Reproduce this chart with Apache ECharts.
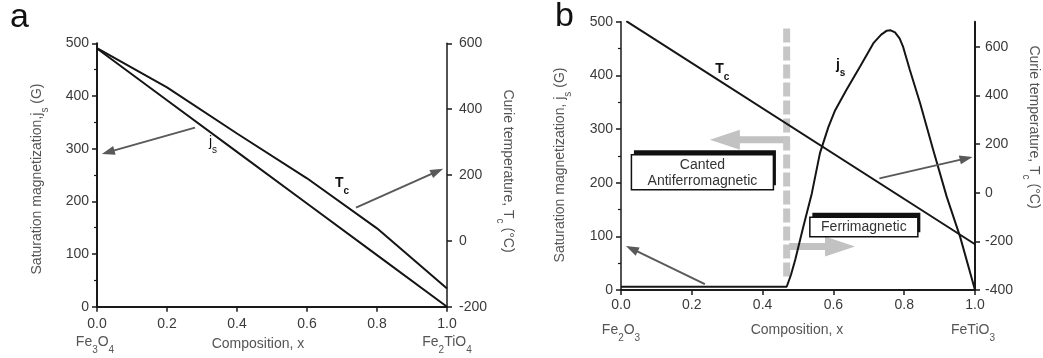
<!DOCTYPE html>
<html><head><meta charset="utf-8">
<script src="https://cdn.jsdelivr.net/npm/echarts@6/dist/echarts.min.js"></script>
<style>html,body{margin:0;padding:0;background:#fff}#c{width:1043px;height:358px}</style>
</head><body><div id="c"></div>
<script>
// ---------- data ----------
const xTickValues = [0, 0.2, 0.4, 0.6, 0.8, 1.0];
// panel a : Fe3O4 - Fe2TiO4
const compA = [0, 0.2, 0.4, 0.6, 0.8, 1.0];
const jsA   = [490, 392, 294, 196, 98, 0];          // saturation magnetization (G)
const tcA   = [585, 466, 326, 190, 38, -145];       // Curie temperature (°C)
// panel b : Fe2O3 - FeTiO3
const compB_js = [0, 0.468, 0.480, 0.492, 0.515, 0.539, 0.562, 0.586, 0.605, 0.637, 0.675, 0.713, 0.735, 0.750, 0.762, 0.774, 0.787, 0.797, 0.816, 0.845, 0.882, 0.920, 0.958, 1.0];
const jsB      = [6, 6, 28, 56, 118, 180, 255, 304, 335, 373, 416, 460, 476, 483, 484, 480, 469, 453, 410, 348, 261, 174, 99, 0];
const compB_tc = [0.015, 1.0];
const tcB      = [705, -212];
const rightTicksB = [-400, -200, 0, 200, 400, 600];
const boundaryB = [[0.468, 25], [0.468, 491]];
// annotations, in data units [x1, y1(left axis), x2, y2]
const arrowsA = [[0.28, 340, 0.014, 290], [0.74, 188, 0.989, 262]];
const arrowsB = [[0.237, 11, 0.014, 82], [0.73, 208, 0.993, 248]];
const bigArrowsB = [[0.475, 280, 0.251, 280], [0.475, 81, 0.661, 81]];
const labelsA = [[0.32, 306], [0.68, 228]];
const labelTextA = [['j', 's'], ['T', 'c']];
const labelsB = [[0.266, 406], [0.607, 414]];
const labelTextB = [['T', 'c'], ['j', 's']];
const boxesB = [[0.230, 252], [0.686, 135.5]];
const boxTextB = ['Canted\nAntiferromagnetic', 'Ferrimagnetic'];
</script>
<script>
const FONT = '"Liberation Sans", Arial, sans-serif';
const AX = '#1a1a1a', TXT = '#3a3a3a', TTL = '#555';
const boxSizes = [[142, 35], [108, 19.5]];

function rich(size, color, weight, lh) {
  const ss = Math.round(size * 0.72);
  return {
    m: {fontSize: size, fontFamily: FONT, fill: color, color: color, fontWeight: weight || 'normal', lineHeight: lh || size + 6, verticalAlign: 'top'},
    s: {fontSize: ss, fontFamily: FONT, fill: color, color: color, fontWeight: weight || 'normal', lineHeight: ss, verticalAlign: 'bottom'}
  };
}
const zip = (xs, ys) => xs.map((x, i) => [x, ys[i]]);

function arrowRender(lineW, headL, headW, color) {
  return function (params, api) {
    const p1 = api.coord([api.value(0), api.value(1)]);
    const p2 = api.coord([api.value(2), api.value(3)]);
    const dx = p2[0] - p1[0], dy = p2[1] - p1[1];
    const len = Math.hypot(dx, dy), ux = dx / len, uy = dy / len;
    const bx = p2[0] - ux * headL, by = p2[1] - uy * headL;
    const nx = -uy, ny = ux;
    return {type: 'group', children: [
      {type: 'line', shape: {x1: p1[0], y1: p1[1], x2: bx + ux, y2: by + uy}, style: {stroke: color, lineWidth: lineW}},
      {type: 'polygon', shape: {points: [[p2[0], p2[1]], [bx + nx * headW / 2, by + ny * headW / 2], [bx - nx * headW / 2, by - ny * headW / 2]]}, style: {fill: color}}
    ]};
  };
}
function labelRender(texts, weights) {
  return function (params, api) {
    const p = api.coord([api.value(0), api.value(1)]);
    const t = texts[params.dataIndex];
    return {type: 'text', x: p[0], y: p[1], style: {text: '{m|' + t[0] + '}{s|' + t[1] + '}', rich: rich(14, '#111', weights[params.dataIndex], 20), align: 'left', verticalAlign: 'middle'}};
  };
}
function boxRender(params, api) {
  const p = api.coord([api.value(0), api.value(1)]);
  const w = boxSizes[params.dataIndex][0], h = boxSizes[params.dataIndex][1];
  return {type: 'group', children: [
    {type: 'rect', shape: {x: p[0] - w / 2 + 2.5, y: p[1] - 4.5, width: w, height: h}, style: {fill: '#111'}},
    {type: 'rect', shape: {x: p[0] - w / 2, y: p[1], width: w, height: h}, style: {fill: '#fff', stroke: '#111', lineWidth: 1.5}},
    {type: 'text', x: p[0], y: p[1] + h / 2 + 0.5, style: {text: boxTextB[params.dataIndex], align: 'center', verticalAlign: 'middle', fontSize: 14, fontFamily: FONT, fill: '#333', lineHeight: 16}}
  ]};
}

function xAxis(grid, w, margin) {
  return {type: 'value', gridIndex: grid, min: 0, max: 1, interval: 0.2,
    axisLine: {onZero: false, lineStyle: {color: AX, width: w}},
    axisTick: {length: 5, lineStyle: {color: AX, width: 1.5}},
    axisLabel: {margin: margin, fontSize: 14, fontFamily: FONT, color: TXT, formatter: v => v.toFixed(1)},
    splitLine: {show: false}};
}
function yLeft(grid, w) {
  return {type: 'value', gridIndex: grid, position: 'left', min: 0, max: 500, interval: 100,
    axisLine: {show: true, onZero: false, lineStyle: {color: AX, width: w}},
    axisTick: {show: true, length: 5, lineStyle: {color: AX, width: 1.5}},
    minorTick: {show: true, splitNumber: 2, length: 3, lineStyle: {color: AX, width: 1.2}},
    axisLabel: {margin: 8, fontSize: 14, fontFamily: FONT, color: TXT},
    splitLine: {show: false}};
}
function yRight(grid, w, min, max, ticks, margin) {
  const o = {type: 'value', gridIndex: grid, position: 'right', min: min, max: max, interval: 200,
    axisLine: {show: true, onZero: false, lineStyle: {color: AX, width: w}},
    axisTick: {show: true, length: 5, lineStyle: {color: AX, width: 1.5}},
    axisLabel: {margin: margin, fontSize: 14, fontFamily: FONT, color: TXT},
    splitLine: {show: false}};
  if (ticks) { o.axisTick.customValues = ticks; o.axisLabel.customValues = ticks; }
  return o;
}

const lineStyle = {color: '#151515', width: 2};
function gtext(x, y, text, rot, size, color, lh) {
  return {type: 'text', x: x, y: y, rotation: rot || 0,
    style: {text: text, rich: rich(size || 14, color || TTL, 'normal', lh || 20), align: 'center', verticalAlign: 'middle'}};
}

const chart = echarts.init(document.getElementById('c'), null, {renderer: 'canvas'});
chart.setOption({
  animation: false,
  backgroundColor: '#fff',
  grid: [
    {left: 97, right: 1043 - 447, top: 43.3, bottom: 358 - 306.7, containLabel: false},
    {left: 621, right: 1043 - 975, top: 21.7, bottom: 358 - 290, containLabel: false}
  ],
  xAxis: [xAxis(0, 2, 10), xAxis(1, 2, 8)],
  yAxis: [
    yLeft(0, 2), yRight(0, 1.5, -200, 600, null, 12),
    yLeft(1, 1.5), yRight(1, 2, -400, 703, rightTicksB, 10)
  ],
  series: [
    {type: 'line', name: 'js a', xAxisIndex: 0, yAxisIndex: 0, data: zip(compA, jsA), symbol: 'none', lineStyle: lineStyle, z: 3},
    {type: 'line', name: 'Tc a', xAxisIndex: 0, yAxisIndex: 1, data: zip(compA, tcA), symbol: 'none', lineStyle: lineStyle, z: 3},
    {type: 'line', name: 'boundary', xAxisIndex: 1, yAxisIndex: 2, data: boundaryB, symbol: 'none', lineStyle: {color: '#c6c6c6', width: 7, type: [14, 4]}, z: 1},
    {type: 'custom', name: 'big arrows', xAxisIndex: 1, yAxisIndex: 2, data: bigArrowsB, encode: {x: [0, 2], y: [1, 3]}, renderItem: arrowRender(7, 30, 20, '#c2c2c2'), z: 1},
    {type: 'line', name: 'js b', xAxisIndex: 1, yAxisIndex: 2, data: zip(compB_js, jsB), symbol: 'none', lineStyle: lineStyle, z: 3},
    {type: 'line', name: 'Tc b', xAxisIndex: 1, yAxisIndex: 3, data: zip(compB_tc, tcB), symbol: 'none', lineStyle: lineStyle, z: 3},
    {type: 'custom', name: 'arrows a', xAxisIndex: 0, yAxisIndex: 0, data: arrowsA, encode: {x: [0, 2], y: [1, 3]}, renderItem: arrowRender(2, 13, 9, '#595959'), z: 4},
    {type: 'custom', name: 'arrows b', xAxisIndex: 1, yAxisIndex: 2, data: arrowsB, encode: {x: [0, 2], y: [1, 3]}, renderItem: arrowRender(2, 13, 9, '#595959'), z: 4},
    {type: 'custom', name: 'labels a', xAxisIndex: 0, yAxisIndex: 0, data: labelsA, renderItem: labelRender(labelTextA, ['normal', 'bold']), z: 5},
    {type: 'custom', name: 'labels b', xAxisIndex: 1, yAxisIndex: 2, data: labelsB, renderItem: labelRender(labelTextB, ['bold', 'bold']), z: 5},
    {type: 'custom', name: 'boxes b', xAxisIndex: 1, yAxisIndex: 2, data: boxesB, renderItem: boxRender, z: 6}
  ],
  graphic: [
    {type: 'text', x: 10, y: 18, style: {text: 'a', fontSize: 34, fontFamily: FONT, fill: '#111', align: 'left', verticalAlign: 'middle'}},
    {type: 'text', x: 555, y: 17, style: {text: 'b', fontSize: 34, fontFamily: FONT, fill: '#111', align: 'left', verticalAlign: 'middle'}},
    gtext(40, 179, '{m|Saturation magnetization,j}{s|s}{m| (G)}', Math.PI / 2),
    gtext(505, 171, '{m|Curie temperature, T}{s|c}{m| (°C)}', -Math.PI / 2),
    gtext(563, 165, '{m|Saturation magnetization, j}{s|s}{m| (G)}', Math.PI / 2),
    gtext(1031, 127, '{m|Curie temperature, T}{s|c}{m| (°C)}', -Math.PI / 2),
    gtext(95, 345, '{m|Fe}{s|3}{m|O}{s|4}', 0, 14, TTL),
    gtext(258, 347, '{m|Composition, x}', 0, 14, TTL),
    gtext(447, 345, '{m|Fe}{s|2}{m|TiO}{s|4}', 0, 14, TTL),
    gtext(621, 333, '{m|Fe}{s|2}{m|O}{s|3}', 0, 14, TTL),
    gtext(797, 333, '{m|Composition, x}', 0, 14, TTL),
    gtext(973, 333, '{m|FeTiO}{s|3}', 0, 14, TTL)
  ]
});
</script>
</body></html>
